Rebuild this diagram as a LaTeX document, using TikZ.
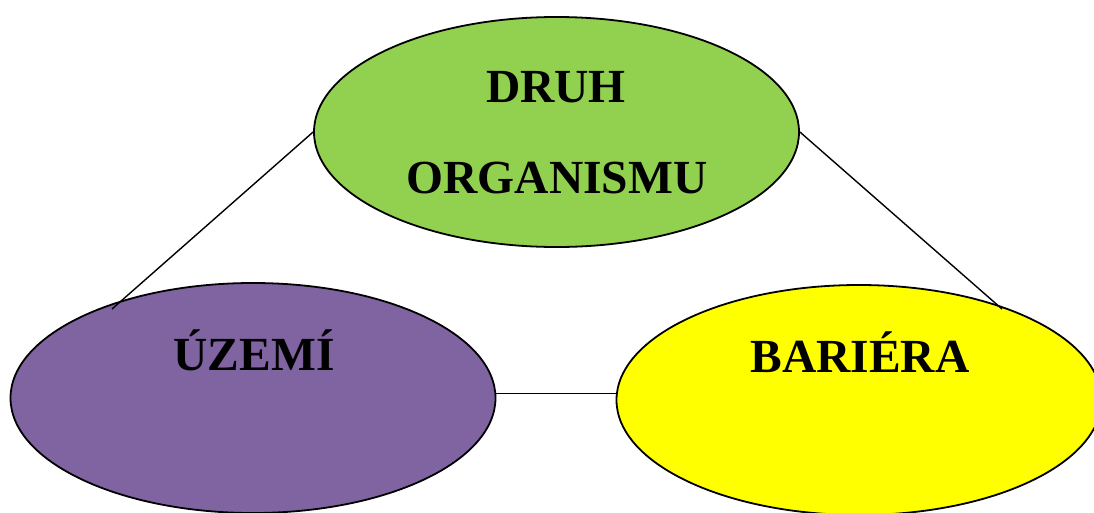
\documentclass[tikz,border=0pt]{standalone}
\usepackage{fontspec}
\setmainfont{Liberation Serif}
\usetikzlibrary{shapes.geometric}
\definecolor{cgreen}{HTML}{92D050}
\definecolor{cpurple}{HTML}{8064A2}
\definecolor{cyellow}{HTML}{FFFF00}
\tikzset{
  blob/.style={ellipse, draw=black, line width=1.8pt, inner sep=0pt,
    minimum width=485pt, minimum height=230pt},
  lbl/.style={anchor=base, inner sep=0pt, font=\fontsize{47.5}{50}\selectfont\bfseries},
  conn/.style={draw=black, line width=1.4pt}
}
\begin{document}
\begin{tikzpicture}[x=1pt,y=-1pt]
\useasboundingbox (0,0) rectangle (1094,512);
\node[blob, fill=cgreen] (druh) at (556.5,132) {};
\node[blob, fill=cpurple] (uzemi) at (253,398) {};
\node[blob, fill=cyellow] (bariera) at (859,400) {};
\node[lbl] (t1) at (556,102) {DRUH};
\node[lbl] (t2) at (557,193) {ORGANISMU};
\node[lbl] (t3) at (254,370) {ÚZEMÍ};
\node[lbl] (t4) at (860,372) {BARIÉRA};
\coordinate (lend) at (112,309);
\coordinate (rend) at (1002,309);
\draw[conn] (druh.west) -- (lend);
\draw[conn] (druh.east) -- (rend);
\draw[conn] (uzemi.1) -- (uzemi.1 -| bariera.west);
\end{tikzpicture}
\end{document}
